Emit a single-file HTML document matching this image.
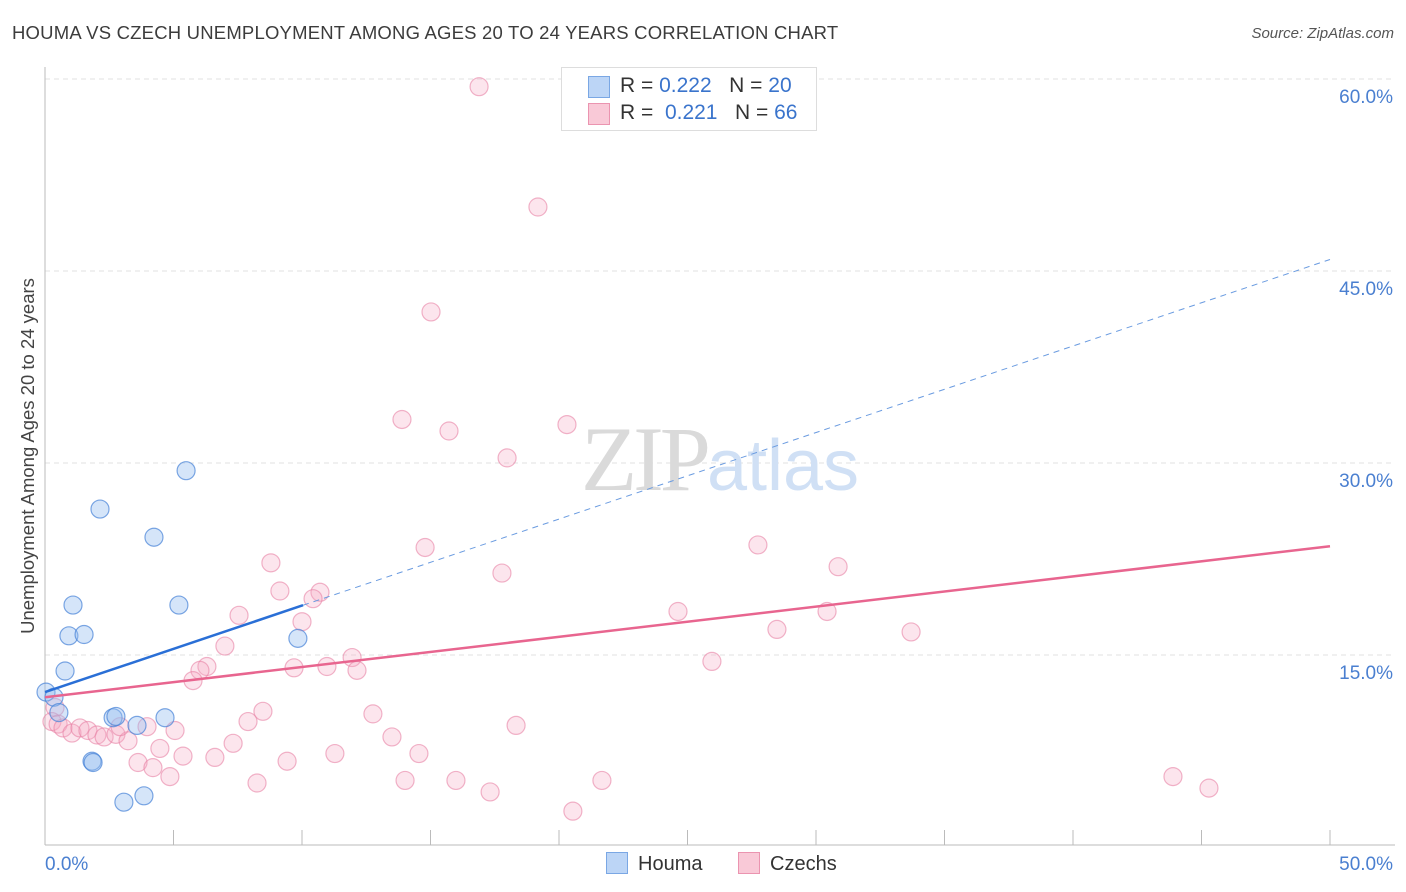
<!DOCTYPE html>
<html><head><meta charset="utf-8"><style>
body{margin:0;background:#fff;font-family:"Liberation Sans",sans-serif;}
#wrap{position:relative;width:1406px;height:892px;overflow:hidden;}
</style></head><body>
<div id="wrap">
<div style="position:absolute;left:12px;top:22px;font-size:18.5px;color:#3c3c3c;letter-spacing:0.2px">HOUMA VS CZECH UNEMPLOYMENT AMONG AGES 20 TO 24 YEARS CORRELATION CHART</div>
<div style="position:absolute;right:12px;top:25px;font-size:15px;color:#555;font-style:italic">Source: ZipAtlas.com</div>
<svg id="svg" width="1406" height="892" style="position:absolute;left:0;top:0"></svg>
</div>
<script>
const houmaX=[0.04,0.35,0.54,0.78,0.93,1.09,1.52,2.14,1.83,1.87,2.65,2.76,3.07,3.85,3.58,4.24,4.67,5.21,5.49,9.84];
const houmaY=[12.1,11.7,10.5,13.75,16.5,18.9,16.6,26.4,6.7,6.6,10.1,10.2,3.5,4.0,9.5,24.2,10.1,18.9,29.4,16.3];
const czechX=[16.89,19.18,15.02,13.89,15.72,20.31,17.98,14.79,27.74,30.86,8.79,17.78,9.14,10.70,10.43,7.55,24.63,30.43,10.0,28.48,33.70,7.0,11.95,6.30,6.03,5.76,9.69,10.97,12.14,25.95,8.48,7.90,12.76,18.33,5.06,3.97,0.39,0.27,0.51,0.70,1.05,1.36,1.67,2.02,2.30,2.76,3.23,2.92,7.32,4.47,3.62,6.61,5.37,4.20,13.50,11.28,14.55,9.42,4.86,8.25,14.01,15.99,21.67,17.32,20.54,43.89,45.29];
const czechY=[59.4,50.0,41.8,33.4,32.5,33.0,30.4,23.4,23.6,21.9,22.2,21.4,20.0,19.9,19.4,18.1,18.4,18.4,17.6,17.0,16.8,15.7,14.8,14.1,13.8,13.0,14.0,14.1,13.8,14.5,10.6,9.8,10.4,9.5,9.1,9.4,10.9,9.8,9.6,9.3,8.9,9.3,9.1,8.75,8.6,8.8,8.3,9.4,8.1,7.7,6.6,7.0,7.1,6.2,8.6,7.3,7.3,6.7,5.5,5.0,5.2,5.2,5.2,4.3,2.8,5.5,4.6];
const yTicks=[15,30,45,60];
const yTickLabels=["15.0%","30.0%","45.0%","60.0%"];
const houmaTrend=[12.1,45.9];
const houmaSolidEnd=10.04;
const czechTrend=[11.7,23.5];
const xMax=50;
const X=v=>45+v*25.7, Y=v=>847-v*12.8;
const svg=document.getElementById('svg');
const NS='http://www.w3.org/2000/svg';
function mk(t,a,p){const e=document.createElementNS(NS,t);for(const k in a)e.setAttribute(k,a[k]);(p||svg).appendChild(e);return e;}
yTicks.forEach((t,i)=>{
 const g=mk('line',{x1:45,x2:1395,y1:Y(t),y2:Y(t),stroke:'#e2e2e2','stroke-dasharray':'5,4'});
 
 
 const tx=mk('text',{x:1393,y:Y(t)+24,'text-anchor':'end','font-size':19,fill:'#4a7fd0','font-family':'Liberation Sans'});
 tx.textContent=yTickLabels[i];
 
 
});
const ya=mk('line',{x1:45,x2:45,y1:67,y2:845,stroke:'#bbb'});


const xa=mk('line',{x1:45,x2:1395,y1:845,y2:845,stroke:'#bbb'});


for(let i=0;i<=10;i++){const t=mk('line',{x1:X(i*5),x2:X(i*5),y1:830,y2:845,stroke:'#bbb'});
 
 }
[[0,"0.0%",'start',45],[50,"50.0%",'end',1393]].forEach(a=>{const t=mk('text',{x:a[3],y:870,'text-anchor':a[2],'font-size':19,fill:'#4a7fd0'});t.textContent=a[1];
 
 });
const yt=mk('text',{x:34,y:456,'text-anchor':'middle','font-size':18.5,fill:'#444',transform:'rotate(-90 34 456)'});
yt.textContent='Unemployment Among Ages 20 to 24 years';


const wm=mk('text',{x:720,y:490,'text-anchor':'middle','font-size':92});
wm.innerHTML='<tspan font-family="Liberation Serif" fill="#dadada" letter-spacing="-4">ZIP</tspan><tspan font-family="Liberation Sans" fill="#d0e0f5" font-size="72">atlas</tspan>';


czechX.forEach((x,i)=>{const c=mk('circle',{cx:X(x),cy:Y(czechY[i]),r:9,fill:'rgba(246,170,195,0.3)',stroke:'rgba(232,130,165,0.6)','stroke-width':1.2});
 
 });
houmaX.forEach((x,i)=>{const c=mk('circle',{cx:X(x),cy:Y(houmaY[i]),r:9,fill:'rgba(150,190,240,0.4)',stroke:'rgba(70,130,215,0.7)','stroke-width':1.2});
 
 });
const hy=v=>houmaTrend[0]+(houmaTrend[1]-houmaTrend[0])*v/xMax;
const hl=mk('line',{x1:X(0),y1:Y(hy(0)),x2:X(houmaSolidEnd),y2:Y(hy(houmaSolidEnd)),stroke:'#2a6fd6','stroke-width':2.5});


const hd=mk('line',{x1:X(houmaSolidEnd),y1:Y(hy(houmaSolidEnd)),x2:X(xMax),y2:Y(hy(xMax)),stroke:'#6a9be0','stroke-width':1,'stroke-dasharray':'6,5'});


const cl=mk('line',{x1:X(0),y1:Y(czechTrend[0]),x2:X(xMax),y2:Y(czechTrend[1]),stroke:'#e8658f','stroke-width':2.5});


</script>
<div style="position:absolute;left:561px;top:67px;width:254px;height:62px;border:1px solid #ddd;background:#fff;font-size:21px;color:#333">
 <div style="position:absolute;left:26px;top:8px;width:20px;height:20px;background:#bcd5f6;border:1px solid #7aa7e4"></div>
 <div style="position:absolute;left:58px;top:6px">R = <span style="color:#3a74cc">0.222</span>&nbsp;&nbsp;&nbsp;N = <span style="color:#3a74cc">20</span></div>
 <div style="position:absolute;left:26px;top:35px;width:20px;height:20px;background:#f9c9d7;border:1px solid #eb94b0"></div>
 <div style="position:absolute;left:58px;top:33px">R = &nbsp;<span style="color:#3a74cc">0.221</span>&nbsp;&nbsp;&nbsp;N = <span style="color:#3a74cc">66</span></div>
</div>
<div style="position:absolute;left:606px;top:852px;font-size:20px;color:#333">
 <span><span style="display:inline-block;width:20px;height:20px;background:#bcd5f6;border:1px solid #7aa7e4;vertical-align:-4px;margin-right:10px"></span>Houma</span>
 <span style="margin-left:30px"><span style="display:inline-block;width:20px;height:20px;background:#f9c9d7;border:1px solid #eb94b0;vertical-align:-4px;margin-right:10px"></span>Czechs</span>
</div>
</body></html>
